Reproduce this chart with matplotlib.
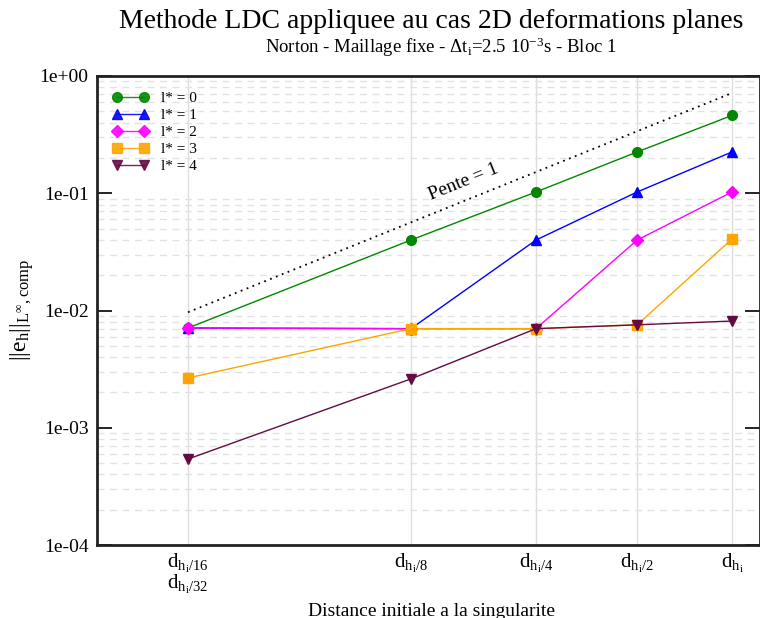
import numpy as np
import matplotlib
matplotlib.use('Agg')
import matplotlib.pyplot as plt

# police type Times
matplotlib.rcParams['font.family'] = ['Liberation Serif', 'DejaVu Serif']
matplotlib.rcParams['mathtext.fontset'] = 'custom'
matplotlib.rcParams['mathtext.rm'] = 'Liberation Serif'
matplotlib.rcParams['mathtext.it'] = 'Liberation Serif:italic'

# distances initiales (relatives a d_hi)
distances = [0.0135, 0.0788, 0.212, 0.472, 1.0]
tick_labels = ['$\\mathrm{d}_{\\mathrm{h}_\\mathrm{i}/16}$\n$\\mathrm{d}_{\\mathrm{h}_\\mathrm{i}/32}$',
               '$\\mathrm{d}_{\\mathrm{h}_\\mathrm{i}/8}$',
               '$\\mathrm{d}_{\\mathrm{h}_\\mathrm{i}/4}$',
               '$\\mathrm{d}_{\\mathrm{h}_\\mathrm{i}/2}$',
               '$\\mathrm{d}_{\\mathrm{h}_\\mathrm{i}}$']

# erreurs pour chaque l*
err_l0 = [7.09e-3, 0.0399, 0.1025, 0.225, 0.461]
err_l1 = [7.09e-3, 7.0e-3, 0.0399, 0.1025, 0.225]
err_l2 = [7.09e-3, 7.0e-3, 7.0e-3, 0.0399, 0.1025]
err_l3 = [2.66e-3, 7.0e-3, 7.0e-3, 7.55e-3, 0.0407]
err_l4 = [5.41e-4, 2.61e-3, 7.0e-3, 7.55e-3, 8.13e-3]

# droite de pente 1
pente_coef = 0.716
pente_x = [distances[0], distances[-1]]
pente_y = [pente_coef * v for v in pente_x]

series = [
    ('l* = 0', err_l0, '#008800', 'o'),
    ('l* = 1', err_l1, '#0000ff', '^'),
    ('l* = 2', err_l2, '#ff00ff', 'D'),
    ('l* = 3', err_l3, '#ffa500', 's'),
    ('l* = 4', err_l4, '#650a45', 'v'),
]

fig = plt.figure(figsize=(7.6, 6.18), dpi=100)
ax = fig.add_axes([97 / 760, 1 - 545 / 618, 663 / 760, 469 / 618])

for lab, vals, col, mk in series:
    ms = 6 if mk == 'D' else 7
    ax.plot(distances, vals, color=col, marker=mk, markersize=ms, linewidth=1, label=lab)

ax.plot(pente_x, pente_y, color='black', linestyle=(0, (1, 2.5)), linewidth=1.3)
ax.text(0.12, 0.124, 'Pente = 1', rotation=22, fontsize=14, ha='center', va='center')

ax.set_xscale('log')
ax.set_yscale('log')
ax.set_xlim(0.00657, 1.248)
ax.set_ylim(1e-4, 1)

ax.set_xticks(distances)
ax.set_xticklabels(tick_labels, fontsize=15, va='top', linespacing=0.85)
ax.xaxis.set_minor_locator(matplotlib.ticker.NullLocator())
ax.tick_params(axis='x', which='both', length=0, pad=5)

ax.set_yticks([1e-4, 1e-3, 1e-2, 1e-1, 1])
ax.set_yticklabels(['1e-04', '1e-03', '1e-02', '1e-01', '1e+00'], fontsize=14)
ax.yaxis.set_minor_locator(matplotlib.ticker.LogLocator(base=10, subs=np.arange(2, 10)))
ax.tick_params(axis='y', which='major', direction='in', length=11, width=1.2,
               left=True, right=True, pad=6)
ax.tick_params(axis='y', which='minor', length=0)

ax.grid(True, axis='x', which='major', color='#dddddd', linewidth=1)
ax.grid(True, axis='y', which='minor', color='#e2e2e2', linestyle=(0, (5, 4)), linewidth=1)
ax.set_axisbelow(True)

for sp in ax.spines.values():
    sp.set_linewidth(2)
    sp.set_color('#222222')

leg = ax.legend(loc='upper left', frameon=False, fontsize=11, numpoints=2, handlelength=2.4,
                labelspacing=0.22, borderaxespad=0.6, handletextpad=0.8)
for h in leg.get_lines():
    h.set_alpha(0.9)

fig.text(431 / 760, 1 - 22 / 618, 'Methode LDC appliquee au cas 2D deformations planes',
         fontsize=20, ha='center', va='center')
fig.text(441 / 760, 1 - 47 / 618,
         'Norton - Maillage fixe - $\\Delta\\mathrm{t}_\\mathrm{i}$=2.5 10$^{\\mathrm{-3}}$s - Bloc 1',
         fontsize=13.5, ha='center', va='center')
fig.text(431 / 760, 1 - 611 / 618, 'Distance initiale a la singularite',
         fontsize=14, ha='center', va='center')
fig.text(22 / 760, 1 - 310 / 618, '$||\\mathrm{e}_\\mathrm{h}||_{\\mathrm{L}^{\\infty}\\mathrm{,comp}}$',
         fontsize=17, rotation=90, ha='center', va='center')

fig.savefig('out.png', dpi=100)
